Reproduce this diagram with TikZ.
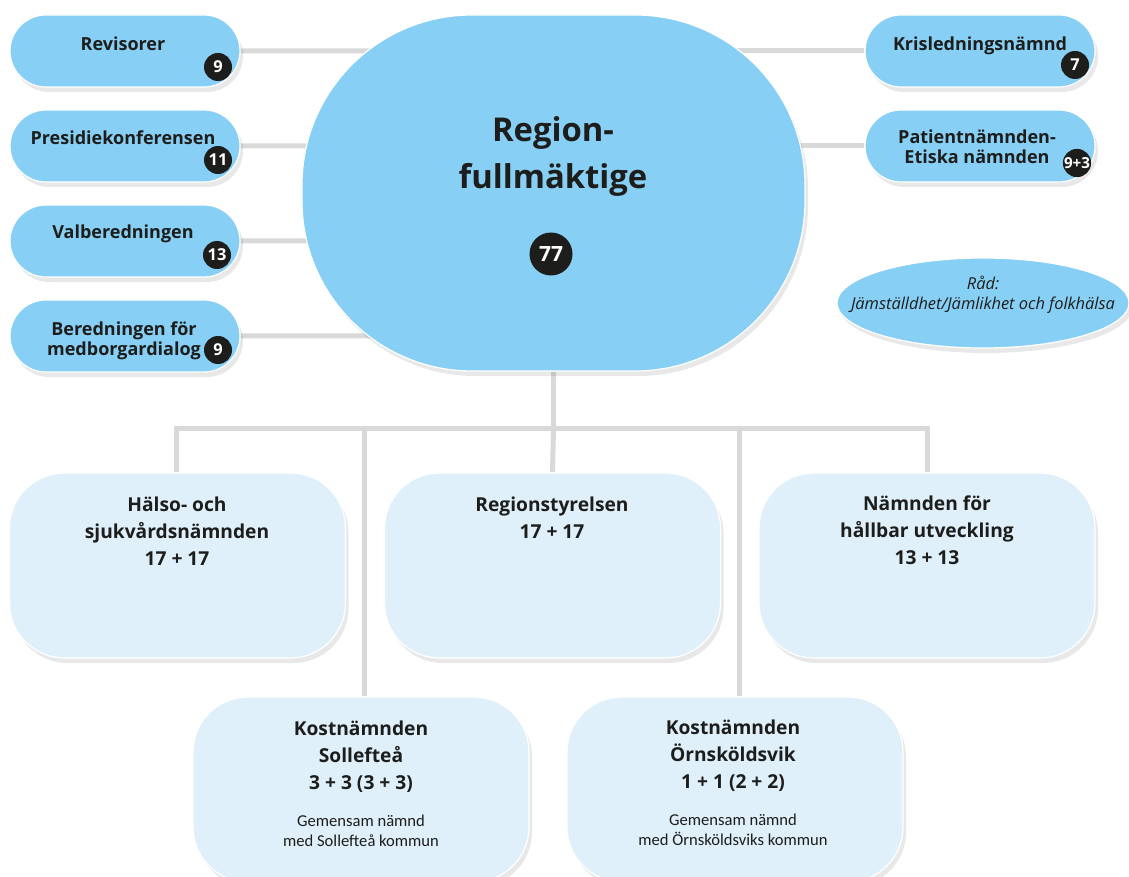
\documentclass[tikz,border=0pt]{standalone}
\usepackage{fontspec}
\setmainfont{Open Sans}
\newfontfamily\calib{Carlito}
\usetikzlibrary{shapes.misc,shapes.geometric,shadows,calc}
\pgfdeclarelayer{bg}
\pgfsetlayers{bg,main}
\definecolor{pillblue}{RGB}{135,207,245}
\definecolor{paleblue}{RGB}{223,240,251}
\definecolor{linegray}{RGB}{217,217,217}
\definecolor{ink}{RGB}{29,29,27}
\begin{document}
\begin{tikzpicture}[x=0.5pt,y=-0.5pt,
  softshadow/.style={drop shadow={shadow xshift=1.5pt,shadow yshift=-2.5pt,opacity=.09,fill=black}},
  pill/.style={rounded rectangle, fill=pillblue, draw=white, line width=0.6pt,
    minimum width=115pt, minimum height=36pt, inner sep=0pt, softshadow},
  badge/.style={circle, fill=ink, text=white, font=\bfseries\fontsize{8.2}{8.2}\selectfont,
    minimum size=14pt, inner sep=0pt},
  pilltext/.style={font=\bfseries\fontsize{9}{10}\selectfont, text=ink, align=center,
    anchor=north, inner sep=0pt},
  bigbox/.style={rectangle, rounded corners=27.5pt, fill=paleblue, draw=white, line width=0.6pt,
    minimum width=168pt, minimum height=92.5pt, inner sep=0pt, softshadow},
  boxtext/.style={font=\bfseries\fontsize{9.6}{13.5}\selectfont, text=ink, align=center,
    anchor=north, inner sep=0pt},
  smalltext/.style={font=\calib\fontsize{8.3}{10}\selectfont, text=ink, align=center,
    anchor=north, inner sep=0pt},
  conn/.style={draw=linegray, line width=2.5pt},
]
\useasboundingbox (0,0) rectangle (1129,877);

% central body
\node[rectangle, rounded corners=85pt, fill=pillblue, draw=white, line width=0.6pt,
  minimum width=251.5pt, minimum height=178pt, inner sep=0pt, softshadow] (rf) at (553.5,193) {};
\node[font=\bfseries\fontsize{16.4}{23.5}\selectfont, text=ink, align=center, anchor=north, inner sep=0pt]
  (rft) at (553,116) {Region-\\fullmäktige};
\node[badge, minimum size=21.5pt, font=\bfseries\fontsize{10.5}{10.5}\selectfont] (b77) at (551,254) {77};

% left pills
\node[pill] (rev) at (125,51) {};
\node[pilltext] (revt) at (123,36) {Revisorer};
\node[badge] (revb) at (218,67) {9};

\node[pill] (pres) at (125,146) {};
\node[pilltext] (prest) at (123,130) {Presidiekonferensen};
\node[badge] (presb) at (218,160) {11};

\node[pill] (valb) at (125,241) {};
\node[pilltext] (valbt) at (123,224) {Valberedningen};
\node[badge] (valbb) at (217,255) {13};

\node[pill] (bered) at (125,336) {};
\node[pilltext] (beredt) at (124,321) {Beredningen för\\medborgardialog};
\node[badge] (beredb) at (218,350) {9};

% right pills
\node[pill] (kris) at (980,51) {};
\node[pilltext] (krist) at (980,36) {Krisledningsnämnd};
\node[badge] (krisb) at (1075,65) {7};

\node[pill] (pat) at (980,146) {};
\node[pilltext] (patt) at (977,129) {Patientnämnden-\\Etiska nämnden};
\node[badge, font=\bfseries\fontsize{7.6}{7.6}\selectfont] (patb) at (1077,163) {9+3};

% council ellipse
\node[ellipse, fill=pillblue, draw=white, line width=0.6pt, minimum width=146pt,
  minimum height=45pt, inner sep=0pt, softshadow] (rad) at (983,303) {};
\node[font=\itshape\fontsize{8.2}{10}\selectfont, text=ink, align=center, anchor=north, inner sep=0pt]
  (radt) at (983,276) {Råd:\\Jämställdhet/Jämlikhet och folkhälsa};

% lower boxes
\node[bigbox] (hs) at (177.5,565.5) {};
\node[boxtext] (hst) at (177,497) {Hälso- och\\sjukvårdsnämnden\\17 + 17};

\node[bigbox] (rs) at (552.5,565.5) {};
\node[boxtext] (rst) at (552,497) {Regionstyrelsen\\17 + 17};

\node[bigbox] (ns) at (927,565.5) {};
\node[boxtext] (nst) at (927,495) {Nämnden för\\hållbar utveckling\\13 + 13};

\node[bigbox] (ks) at (361,789.5) {};
\node[boxtext] (kst) at (361,721) {Kostnämnden\\Sollefteå\\3 + 3 (3 + 3)};
\node[smalltext] (kss) at (361,815) {Gemensam nämnd\\med Sollefteå kommun};

\node[bigbox] (ko) at (735,789.5) {};
\node[boxtext] (kot) at (733,720) {Kostnämnden\\Örnsköldsvik\\1 + 1 (2 + 2)};
\node[smalltext] (kos) at (733,814) {Gemensam nämnd\\med Örnsköldsviks kommun};

% connectors
\coordinate (jn) at (553.5,428);
\begin{pgfonlayer}{bg}
  \draw[conn] (rev) -- (rev -| rf);
  \draw[conn] (pres) -- (pres -| rf);
  \draw[conn] (valb) -- (valb -| rf);
  \draw[conn] (bered) -- (bered -| rf);
  \draw[conn] (kris) -- (kris -| rf);
  \draw[conn] (pat) -- (pat -| rf);
  \draw[conn] (rf) -- (jn);
  \draw[conn] ([xshift=-0.75pt]hs.north) |- (jn) -| (ns.north);
  \draw[conn] (rs.north) -- (jn);
  \draw[conn] ([xshift=1.5pt]ks.north) -- ([xshift=1.5pt]ks.north |- jn);
  \draw[conn] ([xshift=2pt]ko.north) -- ([xshift=2pt]ko.north |- jn);
\end{pgfonlayer}
\end{tikzpicture}
\end{document}
